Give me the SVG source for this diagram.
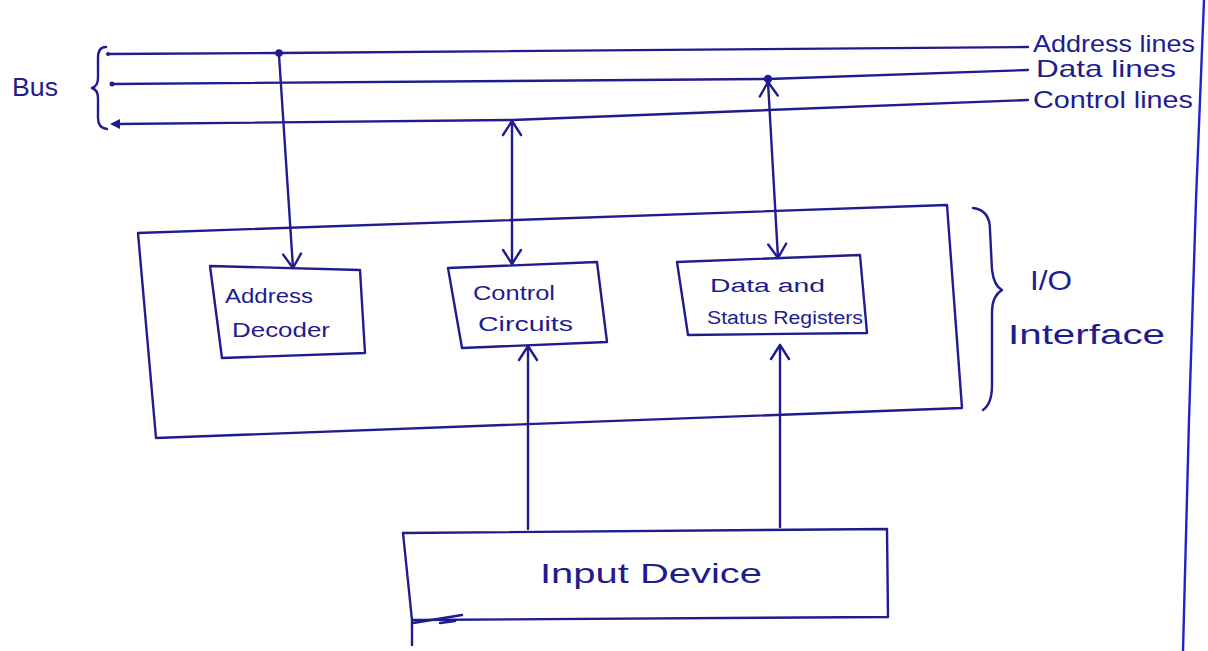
<svg xmlns="http://www.w3.org/2000/svg" width="1208" height="651" viewBox="0 0 1208 651">
  <style>
    .ink { fill: none; stroke: #1f1c8e; stroke-width: 2.4; stroke-linecap: round; stroke-linejoin: round; }
    .lbl { font-family: "Liberation Sans", "DejaVu Sans", sans-serif; fill: #1f1c8e; }
    .dot { fill: #1f1c8e; }
  </style>
  <defs>
    <marker id="arrow" viewBox="-16 -11 18 22" markerWidth="18" markerHeight="22" refX="0" refY="0" markerUnits="userSpaceOnUse" orient="auto-start-reverse">
      <path d="M-14,-9 L0,0 L-14,9" fill="none" stroke="#1f1c8e" stroke-width="2.4" stroke-linecap="round" stroke-linejoin="round"/>
    </marker>
  </defs>

  <rect width="1208" height="651" fill="#ffffff"/>

  <!-- page margin line on the right -->
  <path d="M1204,0 L1196,200 L1189,420 L1183,651" fill="none" stroke="#2422c4" stroke-width="2.4"/>

  <!-- system bus -->
  <g id="bus">
    <text class="lbl" x="12" y="96" font-size="26" textLength="46" lengthAdjust="spacingAndGlyphs">Bus</text>
    <path class="ink" d="M106,47 Q98,47 98,58 L98,78 Q98,86 92,88 Q98,90 98,98 L98,118 Q98,128 107,129"/>
    <!-- address lines -->
    <path class="ink" d="M108,54 L279,53 L1028,47"/>
    <!-- data lines -->
    <path class="ink" d="M112,84 L768,79 L1028,70"/>
    <!-- control lines -->
    <path class="ink" d="M117,124 L512,120 L1028,100"/>
    <circle class="dot" cx="108" cy="54" r="2"/>
    <circle class="dot" cx="112" cy="84" r="2.5"/>
    <path class="dot" d="M110,124 L120,119 L120,129 Z"/>
    <circle class="dot" cx="279" cy="53" r="3.8"/>
    <circle class="dot" cx="768" cy="79" r="4.2"/>
    <text class="lbl" x="1033" y="52" font-size="24" textLength="162" lengthAdjust="spacingAndGlyphs">Address lines</text>
    <text class="lbl" x="1036" y="77" font-size="24" textLength="140" lengthAdjust="spacingAndGlyphs">Data lines</text>
    <text class="lbl" x="1033" y="108" font-size="24" textLength="160" lengthAdjust="spacingAndGlyphs">Control lines</text>
  </g>

  <!-- I/O interface enclosure -->
  <g id="io-interface">
    <path class="ink" d="M138,233 L947,205 L962,408 L156,438 Z"/>
    <path class="ink" d="M973,208 Q990,210 990,230 L992,270 Q994,286 1002,290 Q992,296 992,312 L992,385 Q992,404 983,410"/>
    <text class="lbl" x="1030" y="290" font-size="28" textLength="42" lengthAdjust="spacingAndGlyphs">I/O</text>
    <text class="lbl" x="1008" y="344" font-size="28" textLength="157" lengthAdjust="spacingAndGlyphs">Interface</text>
  </g>

  <g id="address-decoder">
    <path class="ink" d="M210,266 L360,270 L365,353 L222,358 Z"/>
    <text class="lbl" x="225" y="303" font-size="20" textLength="88" lengthAdjust="spacingAndGlyphs">Address</text>
    <text class="lbl" x="232" y="337" font-size="20" textLength="98" lengthAdjust="spacingAndGlyphs">Decoder</text>
  </g>

  <g id="control-circuits">
    <path class="ink" d="M448,268 L597,262 L607,342 L462,348 Z"/>
    <text class="lbl" x="473" y="300" font-size="20" textLength="82" lengthAdjust="spacingAndGlyphs">Control</text>
    <text class="lbl" x="478" y="331" font-size="20" textLength="95" lengthAdjust="spacingAndGlyphs">Circuits</text>
  </g>

  <g id="data-status-registers">
    <path class="ink" d="M677,262 L860,255 L867,333 L688,335 Z"/>
    <text class="lbl" x="710" y="292" font-size="18" textLength="115" lengthAdjust="spacingAndGlyphs">Data and</text>
    <text class="lbl" x="707" y="324" font-size="18" textLength="156" lengthAdjust="spacingAndGlyphs">Status Registers</text>
  </g>

  <g id="input-device">
    <path class="ink" d="M403,533 L887,529 L888,617 L412,620 L412,645"/>
    <path class="ink" d="M403,533 L412,620"/>
    <path class="ink" d="M413,623 L462,615 M440,623 L455,621"/>
    <text class="lbl" x="540" y="583" font-size="28" textLength="222" lengthAdjust="spacingAndGlyphs">Input Device</text>
  </g>

  <!-- connectors between the bus, the interface blocks and the device -->
  <g id="connectors">
    <path class="ink" d="M279,55 L293,268" marker-end="url(#arrow)"/>
    <path class="ink" d="M512,121 L512,264" marker-start="url(#arrow)" marker-end="url(#arrow)"/>
    <path class="ink" d="M768,82 L778,258" marker-start="url(#arrow)" marker-end="url(#arrow)"/>
    <path class="ink" d="M528,529 L528,346" marker-end="url(#arrow)"/>
    <path class="ink" d="M780,527 L780,345" marker-end="url(#arrow)"/>
  </g>
</svg>
